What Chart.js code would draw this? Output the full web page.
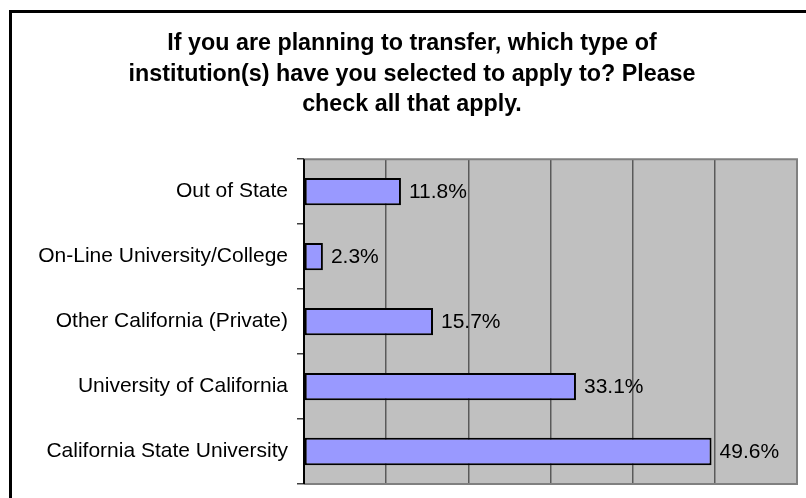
<!DOCTYPE html>
<html>
<head>
<meta charset="utf-8">
<script src="https://cdn.jsdelivr.net/npm/chart.js@4/dist/chart.umd.min.js"></script>
<style>
  html, body { margin: 0; padding: 0; background: #ffffff; }
  #wrap { position: relative; width: 806px; height: 498px; }
</style>
</head>
<body>
<div id="wrap"><canvas id="c" width="806" height="498"></canvas></div>
<script>
const titleLines = [
  'If you are planning to transfer, which type of',
  'institution(s) have you selected to apply to? Please',
  'check all that apply.'
];
const categories = [
  'Out of State',
  'On-Line University/College',
  'Other California (Private)',
  'University of California',
  'California State University'
];
const percentValues = [11.8, 2.3, 15.7, 33.1, 49.6];
const axisMax = 60;
const axisStep = 10;

const FONT = "'Liberation Sans', Arial, sans-serif";

const framePlugin = {
  id: 'frame',
  beforeDraw(chart) {
    const ctx = chart.ctx;
    const a = chart.chartArea;
    ctx.save();
    ctx.fillStyle = '#ffffff';
    ctx.fillRect(0, 0, chart.width, chart.height);
    ctx.strokeStyle = '#000000';
    ctx.lineWidth = 3;
    ctx.strokeRect(10.5, 11.5, chart.width + 20, chart.height + 20);
    ctx.fillStyle = '#C0C0C0';
    ctx.fillRect(a.left, a.top, a.right - a.left, a.bottom - a.top);
    ctx.restore();
  },
  afterDatasetsDraw(chart) {
    const ctx = chart.ctx;
    const a = chart.chartArea;
    ctx.save();
    ctx.strokeStyle = '#808080';
    ctx.lineWidth = 2;
    ctx.beginPath();
    ctx.moveTo(a.left, a.top);
    ctx.lineTo(a.right, a.top);
    ctx.lineTo(a.right, a.bottom);
    ctx.lineTo(a.left, a.bottom);
    ctx.stroke();
    ctx.strokeStyle = '#000000';
    ctx.lineWidth = 2;
    ctx.beginPath();
    ctx.moveTo(a.left, a.top);
    ctx.lineTo(a.left, a.bottom);
    ctx.stroke();
    // value labels
    const meta = chart.getDatasetMeta(0);
    ctx.fillStyle = '#000000';
    ctx.font = '21px ' + FONT;
    ctx.textAlign = 'left';
    ctx.textBaseline = 'middle';
    meta.data.forEach((bar, i) => {
      const v = chart.data.datasets[0].data[i];
      ctx.fillText(v.toFixed(1) + '%', bar.x + 8, bar.y + 1);
    });
    ctx.restore();
  }
};

new Chart(document.getElementById('c'), {
  type: 'bar',
  data: {
    labels: categories,
    datasets: [{
      data: percentValues,
      backgroundColor: '#9999FF',
      borderColor: '#000000',
      borderWidth: 2,
      borderSkipped: false,
      barPercentage: 0.42,
      categoryPercentage: 1.0
    }]
  },
  options: {
    indexAxis: 'y',
    responsive: false,
    animation: false,
    devicePixelRatio: 1,
    layout: { padding: { left: 27, right: 9, top: 0, bottom: 14 } },
    plugins: {
      legend: { display: false },
      tooltip: { enabled: false },
      title: {
        display: true,
        text: titleLines,
        color: '#000000',
        font: { family: FONT, size: 23.3, weight: 'bold', lineHeight: 1.29 },
        padding: { top: 29, bottom: 40 }
      }
    },
    scales: {
      x: {
        min: 0,
        max: axisMax,
        afterFit(scale) { scale.height = 0; scale.paddingLeft = 0; scale.paddingRight = 0; },
        ticks: { display: false, stepSize: axisStep },
        grid: { color: '#5a5a5a', lineWidth: 1.5, drawTicks: false },
        border: { display: false }
      },
      y: {
        afterFit(scale) { scale.width = 277; scale.paddingTop = 0; scale.paddingBottom = 0; },
        ticks: {
          color: '#000000',
          font: { family: FONT, size: 21 },
          padding: 9
        },
        grid: {
          offset: true,
          drawOnChartArea: false,
          drawTicks: true,
          tickLength: 7,
          color: '#404040',
          lineWidth: 1.5
        },
        border: { display: false }
      }
    }
  },
  plugins: [framePlugin]
});
</script>
</body>
</html>
